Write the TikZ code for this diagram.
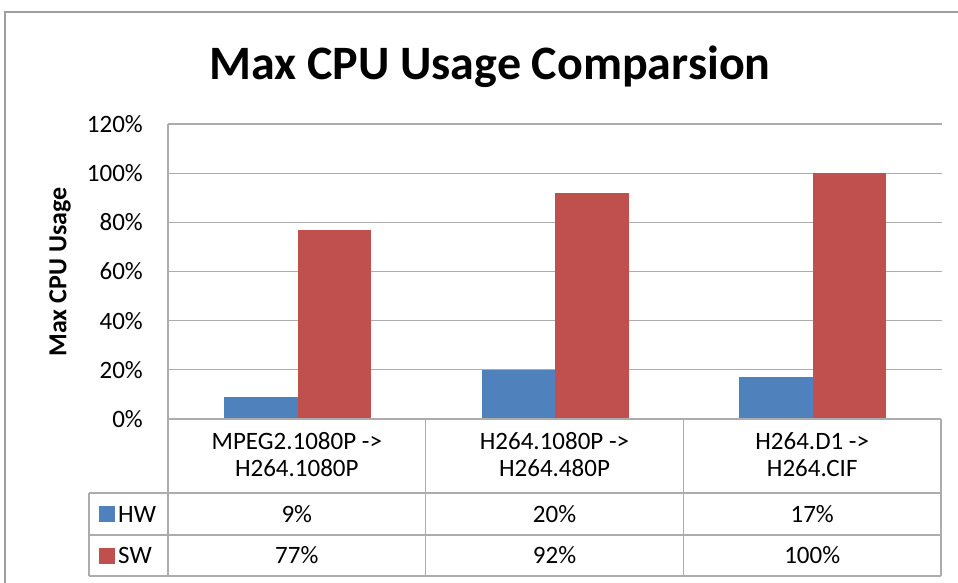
\documentclass[tikz,border=0pt]{standalone}
\usepackage{fontspec}
\setmainfont{Carlito}
\usetikzlibrary{positioning}
\definecolor{hwblue}{HTML}{4F81BD}
\definecolor{swred}{HTML}{C0504D}

\begin{document}
\begin{tikzpicture}[
  x=1pt, y=-1pt,
  font=\fontsize{25}{27}\selectfont,
  frameline/.style={draw=gray!75, line width=2pt},
  gridline/.style={draw=gray!65, line width=1.2pt},
  rule/.style={draw=gray!65, line width=1.2pt},
  hwbar/.style={fill=hwblue, inner sep=0pt, outer sep=0pt, minimum width=73.5pt, anchor=south west},
  swbar/.style={fill=swred, inner sep=0pt, outer sep=0pt, minimum width=73.5pt, anchor=south west},
  tick/.style={anchor=east, inner sep=0pt},
  cell/.style={align=center, inner sep=0pt},
  key/.style={inner sep=0pt, outer sep=0pt, minimum size=16pt}
]
\useasboundingbox (0,0) rectangle (958,582);

% --- outer chart frame ---
\draw[frameline] (5,600) -- (5,12) -- (970,12);

% --- title ---
\node[anchor=base, font=\fontsize{48}{54}\selectfont\bfseries] (title) at (490,79) {Max CPU Usage Comparsion};

% --- value axis ---
\node[tick] (t0)   at (143,419.0) {0\%};
\node[tick] (t20)  at (143,369.8) {20\%};
\node[tick] (t40)  at (143,320.7) {40\%};
\node[tick] (t60)  at (143,271.5) {60\%};
\node[tick] (t80)  at (143,222.3) {80\%};
\node[tick] (t100) at (143,173.2) {100\%};
\node[tick] (t120) at (143,124.0) {120\%};
\node[rotate=90, font=\fontsize{26}{30}\selectfont\bfseries] (ylab) at (60,272) {Max CPU Usage};

% gridlines
\draw[gridline] (168,369.8) -- (942,369.8);
\draw[gridline] (168,320.7) -- (942,320.7);
\draw[gridline] (168,271.5) -- (942,271.5);
\draw[gridline] (168,222.3) -- (942,222.3);
\draw[gridline] (168,173.2) -- (942,173.2);
\draw[gridline] (168,124.0) -- (942,124.0);

% --- bars (100% = 245.8pt) ---
\node[hwbar, minimum height=22.1pt]  (hw1) at (224.0,419) {};
\node[swbar, minimum height=189.3pt] (sw1) at (297.5,419) {};
\node[hwbar, minimum height=49.2pt]  (hw2) at (481.7,419) {};
\node[swbar, minimum height=226.1pt] (sw2) at (555.2,419) {};
\node[hwbar, minimum height=41.8pt]  (hw3) at (739.4,419) {};
\node[swbar, minimum height=245.8pt] (sw3) at (812.9,419) {};

% --- data table ---
\draw[rule] (168,124) -- (168,576);
\draw[rule] (425.7,419) -- (425.7,576);
\draw[rule] (683.4,419) -- (683.4,576);
\draw[rule] (941,419) -- (941,576);
\draw[rule] (89,493) -- (89,576);
\draw[rule] (168,419) -- (941,419);
\draw[rule] (89,493) -- (941,493);
\draw[rule] (89,535) -- (941,535);
\draw[rule] (89,576) -- (941,576);

\node[cell] (cat1) at (296.8,455) {MPEG2.1080P ->\\H264.1080P};
\node[cell] (cat2) at (554.5,455) {H264.1080P ->\\H264.480P};
\node[cell] (cat3) at (812.2,455) {H264.D1 ->\\H264.CIF};

\node[key, fill=hwblue] (khw) at (107,514) {};
\node[right=3pt of khw, inner sep=0pt] (lhw) {HW};
\node[key, fill=swred] (ksw) at (107,555.5) {};
\node[right=3pt of ksw, inner sep=0pt] (lsw) {SW};

\node[cell] (vhw1) at (296.8,514) {9\%};
\node[cell] (vhw2) at (554.5,514) {20\%};
\node[cell] (vhw3) at (812.2,514) {17\%};
\node[cell] (vsw1) at (296.8,555.5) {77\%};
\node[cell] (vsw2) at (554.5,555.5) {92\%};
\node[cell] (vsw3) at (812.2,555.5) {100\%};
\end{tikzpicture}
\end{document}
